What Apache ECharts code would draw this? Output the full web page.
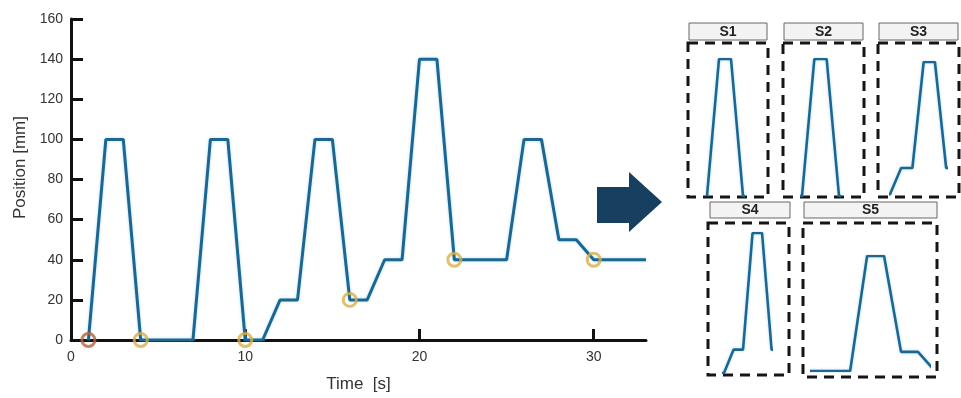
<!DOCTYPE html>
<html><head><meta charset="utf-8">
<script src="https://cdn.jsdelivr.net/npm/echarts@6/dist/echarts.min.js"></script>
<style>html,body{margin:0;padding:0;background:#fff}#c{width:961px;height:398px}</style>
</head><body><div id="c"></div>
<script>
// ---- data ----
const timeS = [1,2,3,4,7,8,9,10,11,12,13,14,15,16,17,18,19,20,21,22,25,26,27,28,29,30,33];
const positionMm = [0,100,100,0,0,100,100,0,0,20,20,100,100,20,20,40,40,140,140,40,40,100,100,50,50,40,40];
const startPoints = [[1,0]];
const segmentEnds = [[4,0],[10,0],[16,20],[22,40],[30,40]];
const xTickValues = [0,10,20,30];
const yTickValues = [0,20,40,60,80,100,120,140,160];
const panelNames = ['S1','S2','S3','S4','S5'];
const panelTimeWindows = [[1,4],[7,10],[11.1,15.94],[17,21.94],[22.75,29.65]];
const panelPosWindows = [[0,100],[0,100],[0,100],[20,140],[40,100]];

// ---- layout (pixels) ----
const panelLayout = [
  {label:[689,23,78,17], box:[688,43,80,154], plot:[707,59,36,137]},
  {label:[784,23,79,17], box:[783,43,81,154], plot:[802,59,37,137]},
  {label:[879,23,79,17], box:[878,43,81,154], plot:[891,62,54.5,132.5]},
  {label:[710,202,80,16], box:[708,223,81,152], plot:[724,233,47,140]},
  {label:[804,202,133,16], box:[803,223,134,154], plot:[812,256,117,115]}
];
const FONT = '"Liberation Sans", Arial, sans-serif';
const LINE = '#1e6692';
const series = timeS.map((t,i)=>[t, positionMm[i]]);

const grids = [{left:71, top:19, right:315, bottom:56}];
const xAxes = [{
  type:'value', min:0, max:33, interval:10, gridIndex:0,
  axisLine:{show:true, onZero:false, lineStyle:{color:'#111', width:3}},
  axisTick:{show:true, inside:true, length:11, customValues:xTickValues, lineStyle:{color:'#111', width:3}},
  axisLabel:{customValues:xTickValues, color:'#333', fontSize:14, fontFamily:FONT, margin:10},
  splitLine:{show:false},
  name:'Time  [s]', nameLocation:'middle', nameGap:36,
  nameTextStyle:{color:'#333', fontSize:17, fontFamily:FONT}
}];
const yAxes = [{
  type:'value', min:0, max:160, interval:20, gridIndex:0,
  axisLine:{show:true, lineStyle:{color:'#111', width:3}},
  axisTick:{show:true, inside:true, length:12, lineStyle:{color:'#111', width:3}},
  axisLabel:{color:'#333', fontSize:14, fontFamily:FONT, margin:8},
  splitLine:{show:false},
  name:'Position [mm]', nameLocation:'middle', nameGap:40,
  nameTextStyle:{color:'#333', fontSize:17, fontFamily:FONT, padding:[0,0,0,24]}
}];
const seriesList = [
  {type:'line', xAxisIndex:0, yAxisIndex:0, data:series, showSymbol:false, symbol:'none',
   lineStyle:{color:LINE, width:3, shadowColor:'rgba(120,200,235,0.6)', shadowBlur:3}, z:3, animation:false},
  {type:'scatter', xAxisIndex:0, yAxisIndex:0, data:startPoints, symbol:'circle', symbolSize:13,
   itemStyle:{color:'rgba(0,0,0,0)', borderColor:'#b4633b', borderWidth:3}, z:5, animation:false},
  {type:'scatter', xAxisIndex:0, yAxisIndex:0, data:segmentEnds, symbol:'circle', symbolSize:13,
   itemStyle:{color:'rgba(0,0,0,0)', borderColor:'#d6b04a', borderWidth:3}, z:5, animation:false}
];
const graphics = [
  {type:'polygon', shape:{points:[[597,187],[629,187],[629,172],[662,202],[629,232],[629,223],[597,223]]},
   style:{fill:'#173f5f'}}
];
panelNames.forEach((name, i)=>{
  const L = panelLayout[i];
  grids.push({left:L.plot[0], top:L.plot[1], width:L.plot[2], height:L.plot[3]});
  xAxes.push({type:'value', gridIndex:i+1, min:panelTimeWindows[i][0], max:panelTimeWindows[i][1], show:false});
  yAxes.push({type:'value', gridIndex:i+1, min:panelPosWindows[i][0], max:panelPosWindows[i][1], show:false});
  seriesList.push({type:'line', xAxisIndex:i+1, yAxisIndex:i+1, data:series, showSymbol:false, symbol:'none', clip:true,
    lineStyle:{color:LINE, width:2.6, shadowColor:'rgba(120,200,235,0.6)', shadowBlur:3}, animation:false});
  graphics.push({type:'rect', shape:{x:L.box[0], y:L.box[1], width:L.box[2], height:L.box[3]},
    style:{fill:'none', stroke:'#151515', lineWidth:3, lineDash:[10,7]}});
  graphics.push({type:'rect', shape:{x:L.label[0], y:L.label[1], width:L.label[2], height:L.label[3]},
    style:{fill:'#f3f3f3', stroke:'#666', lineWidth:1}});
  graphics.push({type:'text', x:L.label[0]+L.label[2]/2, y:L.label[1]+L.label[3]/2+0.5,
    style:{text:name, align:'center', verticalAlign:'middle', textAlign:'center', textVerticalAlign:'middle',
      font:'bold 14px ' + FONT, fill:'#222'}});
});

const chart = echarts.init(document.getElementById('c'), null, {renderer:'canvas'});
chart.setOption({
  animation:false,
  backgroundColor:'#fff',
  grid:grids, xAxis:xAxes, yAxis:yAxes, series:seriesList, graphic:graphics
});
</script></body></html>
